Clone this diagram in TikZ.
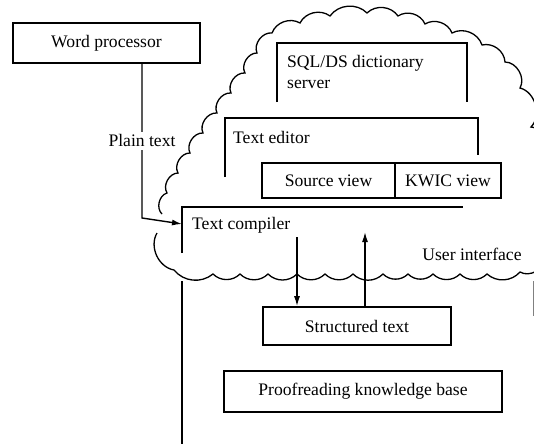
\documentclass[tikz,border=0pt]{standalone}
\usepackage{fontspec}
\setmainfont{Liberation Serif}
\usetikzlibrary{arrows.meta}
\begin{document}
\begin{tikzpicture}[x=1pt,y=-1pt,
  every node/.style={font=\fontsize{17.6}{21}\selectfont, inner sep=0pt},
  line/.style={line width=1.6pt},
  box/.style={draw, line width=1.6pt},
  arr/.style={line width=1.4pt, -{Latex[length=10pt,width=6pt]}},
  cloud/.style={line width=1.3pt},
  bl/.style={bend left=60},
  bt/.style={bend left=50},
  bb/.style={bend left=45}]
\useasboundingbox (0,0) rectangle (534,444);
% full boxes
\node[box, minimum width=187pt, minimum height=40pt] (wp) at (106.5,43) {Word processor};
\node[box, minimum width=133pt, minimum height=35pt] (sv) at (328.5,180.5) {Source view};
\node[box, minimum width=106pt, minimum height=35pt] (kw) at (448,180.5) {KWIC view};
\node[box, minimum width=188pt, minimum height=38pt] (st) at (357,326) {Structured text};
\node[box, minimum width=278pt, minimum height=41pt] (pk) at (363,391.5) {Proofreading knowledge base};
% open frames
\draw[line] (277,102) |- (467,43) -- (467,102);
\node[anchor=west, align=left] (sql) at (287,72) {SQL/DS dictionary\\server};
\draw[line] (225,177) |- (478,118) -- (478,155);
\node[anchor=west] (te) at (233,137) {Text editor};
\draw[line] (182,253) |- (463,207);
\draw[line] (182,281) -- (182,444);
\draw[line width=0.8pt, gray] (533,281) -- (533,316);
\node[anchor=west] (tc) at (192,225) {Text compiler};
\node (ui) at (472,254) {User interface};
% connectors
\coordinate (pbend) at (142,218);
\coordinate (tcin) at (182,224);
\draw[arr] (wp.south -| pbend) -- node[fill=white, inner sep=3pt] (pl) {Plain text} (pbend) -- (tcin);
\coordinate (d1) at (297,237);
\draw[arr] (d1) -- (d1 |- st.north);
\coordinate (u1) at (365,232);
\draw[arr] (u1 |- st.north) -- (u1);
% cloud
\begin{scope}
\clip (0,0) rectangle (534,444);
\draw[cloud] (162,214)
 to[bl] (167,193) to[bl] (178,173) to[bl] (190,153) to[bl] (203,133)
 to[bl] (217,113) to[bl] (231,93) to[bl] (245,73) to[bl] (257,53) to[bl] (272,33)
 to[bt] (300,23) to[bt] (330,16) to[bt] (367,13) to[bt] (398,16) to[bt] (425,24)
 to[bt] (452,33) to[bt] (482,45) to[bt] (505,62)
 to[bl] (520,88) to[bl] (531,127) to[bl] (548,165) to[bl] (556,215) to[bl] (545,258) to[bl] (520,272)
 to[bb] (487,274) to[bb] (460,274) to[bb] (433,274) to[bb] (408,274) to[bb] (383,274)
 to[bb] (353,274) to[bb] (325,274) to[bb] (297,274) to[bb] (268,274) to[bb] (240,274)
 to[bb] (213,274) to[bend left=45] (174,270) to[bend left=55] (157,233);
\end{scope}
\end{tikzpicture}
\end{document}
